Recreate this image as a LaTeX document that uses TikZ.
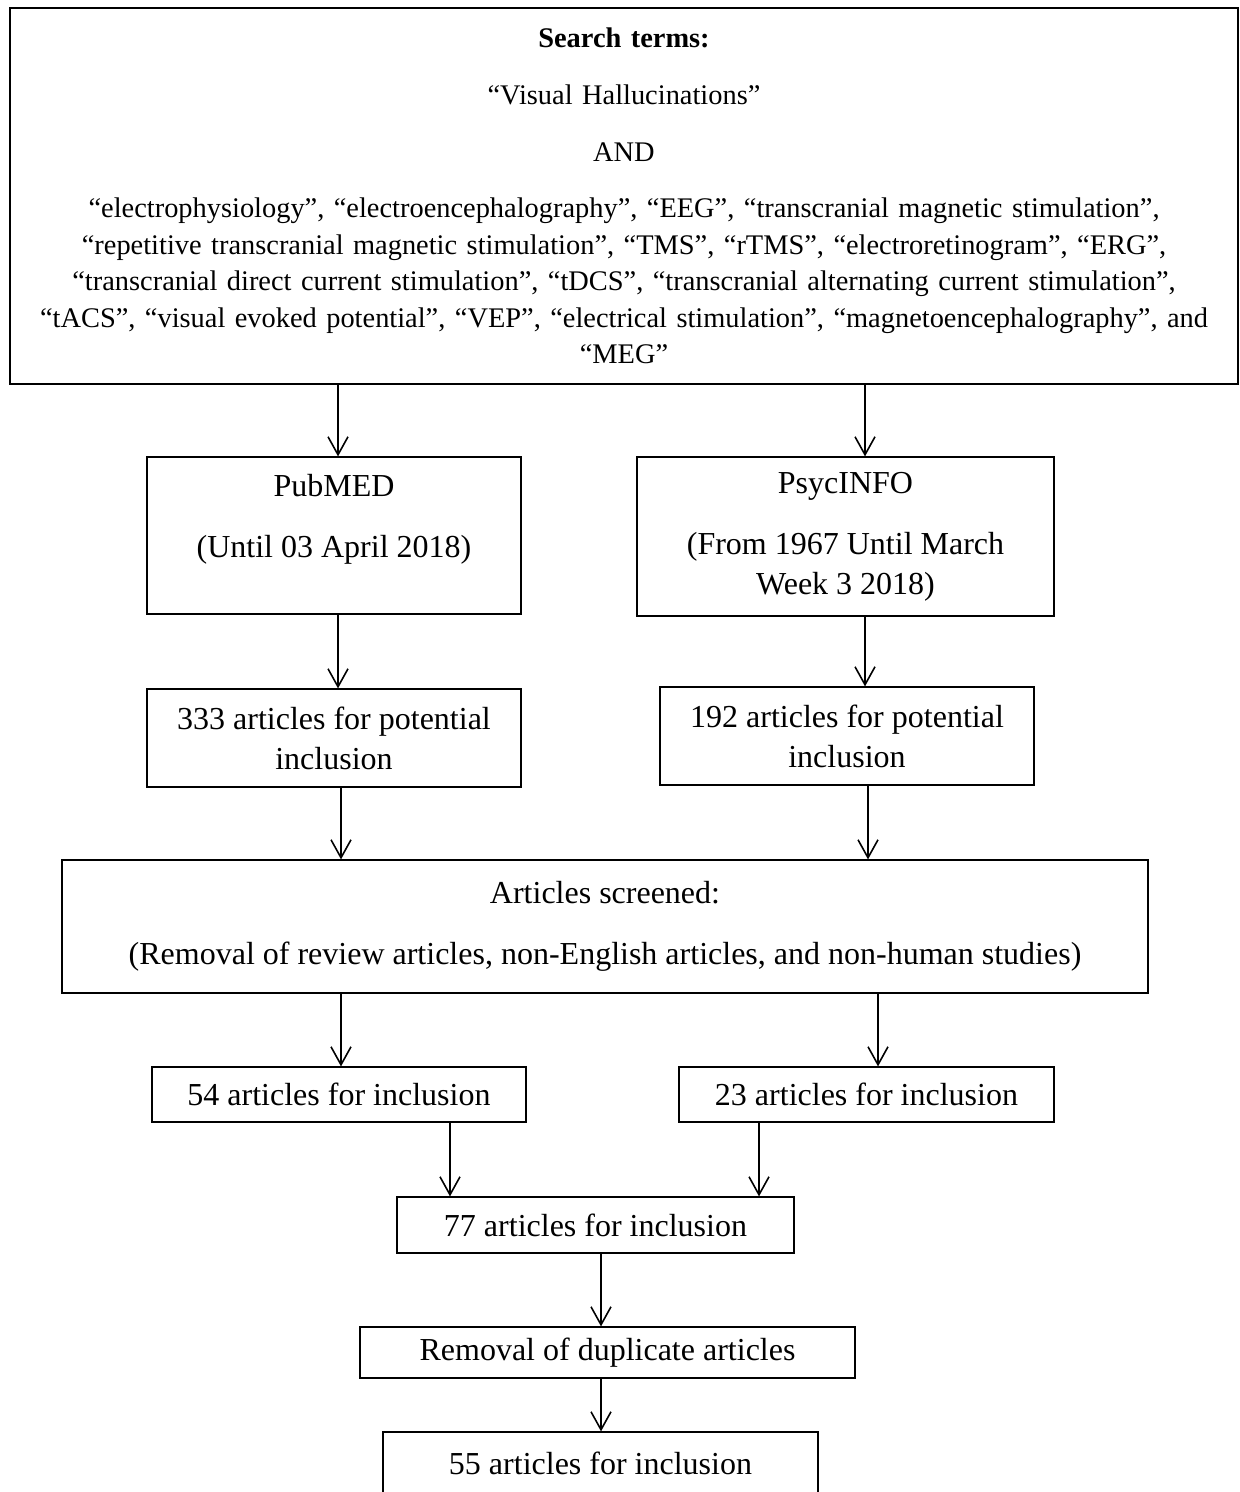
\documentclass[tikz,border=0pt]{standalone}
\usepackage{fontspec}
\setmainfont{Liberation Serif}
\usetikzlibrary{arrows.meta}

\begin{document}
\begin{tikzpicture}[>={Straight Barb[length=9pt,width=10pt]},x=0.5pt,y=-0.5pt,
                    line width=0.8pt]
  \tikzstyle{box}=[draw,line width=0.6pt,inner sep=0pt,align=center,
                   font=\fontsize{16}{20}\selectfont]
  \tikzstyle{terms}=[box,font=\fontsize{14.2}{18.25}\selectfont,text width=610pt]

  \useasboundingbox (0,0) rectangle (1239,1492);

  \node[terms,minimum width=614pt,minimum height=188pt] (search) at (624,196)
    {{\bfseries Search terms:}\\[10.25pt]
     “Visual Hallucinations”\\[10.25pt]
     AND\\[10pt]
     “electrophysiology”, “electroencephalography”, “EEG”, “transcranial magnetic stimulation”,\\
     “repetitive transcranial magnetic stimulation”, “TMS”, “rTMS”, “electroretinogram”, “ERG”,\\
     “transcranial direct current stimulation”, “tDCS”, “transcranial alternating current stimulation”,\\
     “tACS”, “visual evoked potential”, “VEP”, “electrical stimulation”, “magnetoencephalography”, and\\
     “MEG”};

  \node[box,minimum width=187pt,minimum height=78.5pt] (pubmed) at (334,535.5)
    {PubMED\\[10.5pt] (Until 03 April 2018)\\ \phantom{X}};
  \node[box,minimum width=208.5pt,minimum height=79.5pt] (psycinfo) at (845.5,536.5)
    {PsycINFO\\[10.5pt] (From 1967 Until March\\ Week 3 2018)};
  \node[box,minimum width=187pt,minimum height=49pt] (pot333) at (334,738)
    {333 articles for potential\\ inclusion};
  \node[box,minimum width=187pt,minimum height=49pt] (pot192) at (847,736)
    {192 articles for potential\\ inclusion};
  \node[box,minimum width=543pt,minimum height=66.5pt] (screened) at (605,926.5)
    {Articles screened:\\[10.5pt] (Removal of review articles, non-English articles, and non-human studies)};
  \node[box,minimum width=187pt,minimum height=27.5pt] (incl54) at (339,1094.5)
    {54 articles for inclusion};
  \node[box,minimum width=187.5pt,minimum height=27.5pt] (incl23) at (866.5,1094.5)
    {23 articles for inclusion};
  \node[box,minimum width=198.5pt,minimum height=28pt] (incl77) at (595.5,1225)
    {77 articles for inclusion};
  \node[box,minimum width=247.5pt,minimum height=25.5pt] (dupl) at (607.5,1352.5)
    {Removal of duplicate articles};
  \node[box,minimum width=217.5pt,minimum height=31pt] (incl55) at (600.5,1463)
    {55 articles for inclusion};

  \path[->]
        (search.south -| 338,0)   edge (pubmed.north -| 338,0)
        (search.south -| 865,0)   edge (psycinfo.north -| 865,0)
        (pubmed.south -| 338,0)   edge (pot333.north -| 338,0)
        (psycinfo.south -| 865,0) edge (pot192.north -| 865,0)
        (pot333.south -| 341,0)   edge (screened.north -| 341,0)
        (pot192.south -| 868,0)   edge (screened.north -| 868,0)
        (screened.south -| 341,0) edge (incl54.north -| 341,0)
        (screened.south -| 878,0) edge (incl23.north -| 878,0)
        (incl54.south -| 450,0)   edge (incl77.north -| 450,0)
        (incl23.south -| 759,0)   edge (incl77.north -| 759,0)
        (incl77.south -| 601,0)   edge (dupl.north -| 601,0)
        (dupl.south -| 601,0)     edge (incl55.north -| 601,0);
\end{tikzpicture}
\end{document}
